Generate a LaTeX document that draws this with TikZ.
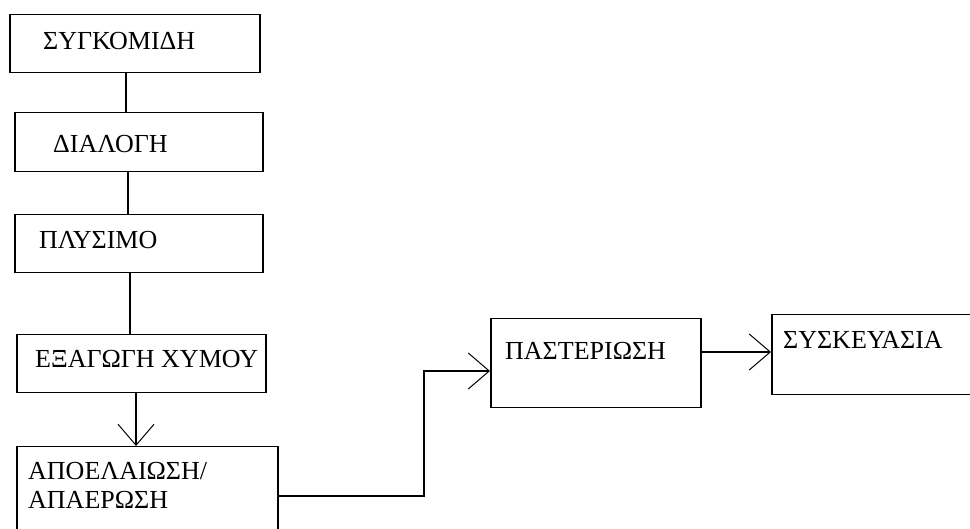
\documentclass[tikz,border=0pt]{standalone}
\usepackage{fontspec}
\setmainfont{Liberation Serif}
\usetikzlibrary{arrows.meta}
\tikzset{
  box/.style={draw=black, line width=1.5pt, anchor=north west, inner sep=0pt, minimum width=#1},
  lbl/.style={anchor=base west, inner sep=0pt, font=\fontsize{26}{30}\selectfont},
  conn/.style={draw=black, line width=1.3pt},
  openarrow/.style={-{Straight Barb[length=21pt,width=36pt,line width=1pt]}},
}
\begin{document}
\begin{tikzpicture}[x=1pt,y=-1pt]
\useasboundingbox (0,0) rectangle (970,529);
\clip (0,0) rectangle (970,529);
% boxes
\node[box=250pt, minimum height=58pt] (b1) at (9,14) {};
\node[box=248pt, minimum height=59pt] (b2) at (14,112) {};
\node[box=248pt, minimum height=58pt] (b3) at (14,214) {};
\node[box=249pt, minimum height=58pt] (b4) at (16,334) {};
\node[box=261pt, minimum height=120pt] (b5) at (16,446) {};
\node[box=210pt, minimum height=89pt] (b6) at (490,318) {};
\node[box=240pt, minimum height=80pt] (b7) at (771,314) {};
% texts
\node[lbl] (t1) at (43,50) {ΣΥΓΚΟΜΙΔΗ};
\node[lbl] (t2) at (53,153) {ΔΙΑΛΟΓΗ};
\node[lbl] (t3) at (39,249) {ΠΛΥΣΙΜΟ};
\node[lbl] (t4) at (35,368) {ΕΞΑΓΩΓΗ ΧΥΜΟΥ};
\node[lbl] (t5a) at (28,479) {ΑΠΟΕΛΑΙΩΣΗ/};
\node[lbl] (t5b) at (28,508) {ΑΠΑΕΡΩΣΗ};
\node[lbl] (t6) at (505,360) {ΠΑΣΤΕΡΙΩΣΗ};
\node[lbl] (t7) at (783,349) {ΣΥΣΚΕΥΑΣΙΑ};
% connectors
\coordinate (c1) at (126,0);
\coordinate (c2) at (128,0);
\coordinate (c3) at (130,0);
\coordinate (c4) at (136,0);
\coordinate (k1) at (424,496);
\coordinate (k2) at (424,371);
\coordinate (k3) at (0,352);
\draw[conn] (b1.south -| c1) -- (b2.north -| c1);
\draw[conn] (b2.south -| c2) -- (b3.north -| c2);
\draw[conn] (b3.south -| c3) -- (b4.north -| c3);
\draw[conn, openarrow] (b4.south -| c4) -- (b5.north -| c4);
\draw[conn, openarrow] (b5.east |- k1) -- (k1) -- (k2) -- (b6.west |- k2);
\draw[conn, openarrow] (b6.east |- k3) -- (b7.west |- k3);
\end{tikzpicture}
\end{document}
